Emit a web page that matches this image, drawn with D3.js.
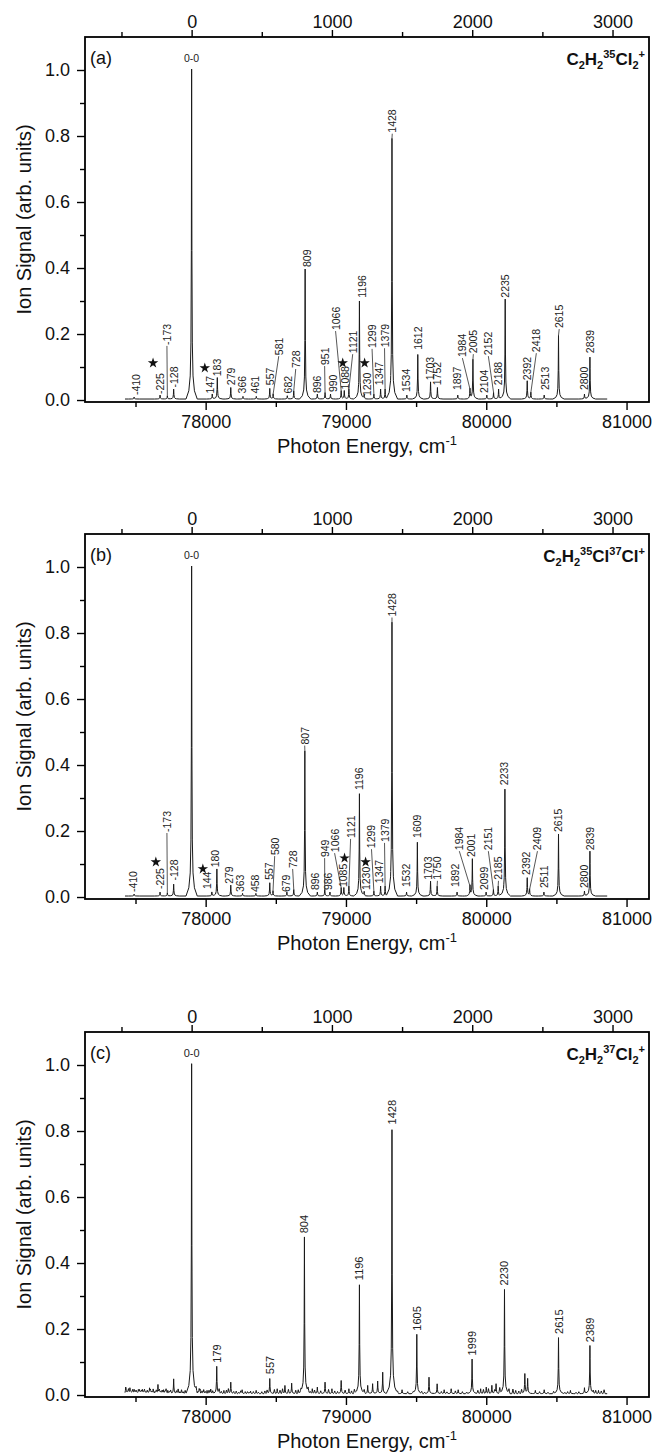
<!DOCTYPE html>
<html>
<head>
<meta charset="utf-8">
<script src="https://cdn.jsdelivr.net/npm/d3@7"></script>
<style>
body{margin:0;background:#fff;}
text{font-family:"Liberation Sans",Arial,Helvetica,sans-serif;}
</style>
</head>
<body>
<svg id="chart" width="658" height="1453"></svg>
<script>
// frame of one panel (panel a), the other two are shifted down
var left=85, right=649, top0=37, bottom0=402;
var panelOffset=[0,497,995];
var zeroZero=77900;               // 0-0 band, cm-1
var energyDomain=[77140,81160];
var yDomain=[-0.006,1.1];
var yTicks=[0,0.2,0.4,0.6,0.8,1.0];
var yMinor=[0.1,0.3,0.5,0.7,0.9];
var bottomTicks=[78000,79000,80000,81000];
var bottomMinor=[77500,78500,79500,80500];
var topTicks=[0,1000,2000,3000];
var topMinor=[-500,500,1500,2500];
var scanRange=[-475,2962];

// peak profile (distance cm-1 -> fraction of peak height)
var shapeDist=[0,2,5,10,20,40], shapeFrac=[1,0.45,0.17,0.07,0.025,0];
var noiseDist=[0,4,8], noiseFrac=[1,0.35,0];

// ---- panel (a) C2H2 35Cl2+
var aPeakPos=[-410,-225,-173,-128,0,147,183,279,366,461,557,581,682,728,809,896,951,990,1066,1088,1121,1196,1230,1299,1347,1379,1428,1534,1612,1703,1752,1897,1984,2005,2104,2152,2188,2235,2392,2418,2513,2615,2800,2839];
var aPeakH=[0.006,0.012,0.01,0.03,1.0,0.015,0.065,0.035,0.008,0.008,0.032,0.015,0.01,0.025,0.394,0.015,0.02,0.015,0.025,0.025,0.03,0.297,0.012,0.015,0.03,0.03,0.79,0.012,0.135,0.052,0.035,0.012,0.03,0.12,0.012,0.02,0.03,0.303,0.055,0.02,0.012,0.193,0.015,0.127];
var aLabelText=["-410","-225","-173","-128","147","183","279","366","461","557","581","682","728","809","896","951","990","1066","1088","1121","1196","1230","1299","1347","1379","1428","1534","1612","1703","1752","1897","1984","2005","2104","2152","2188","2235","2392","2418","2513","2615","2800","2839"];
var aLabelX=[-397,-226,-176,-127,129,179,279,357,450,557,621,685,742,820,891,948,1005,1026,1090,1148,1212,1247,1286,1339,1375,1430,1531,1610,1702,1752,1895,1930,2008,2087,2115,2187,2236,2393,2457,2521,2620,2798,2841];
var aLabelY=[0.015,0.018,0.167,0.038,0.02,0.072,0.045,0.02,0.02,0.045,0.136,0.02,0.097,0.403,0.021,0.106,0.024,0.212,0.032,0.142,0.31,0.012,0.158,0.045,0.16,0.81,0.024,0.152,0.06,0.045,0.03,0.13,0.142,0.021,0.136,0.045,0.31,0.06,0.145,0.03,0.218,0.03,0.142];
var aStarX=[-275,94,1077,1233];
var aStarY=[0.112,0.097,0.112,0.112];
var aMolecule=[["C",0],["2",1],["H",0],["2",1],["35",2],["Cl",0],["2",1],["+",2]];

// ---- panel (b) C2H2 35Cl37Cl+
var bPeakPos=[-410,-225,-173,-128,0,144,180,279,363,458,557,580,679,728,807,896,949,986,1066,1085,1121,1196,1230,1299,1347,1379,1428,1532,1609,1703,1750,1892,1984,2001,2099,2151,2185,2233,2392,2409,2511,2615,2800,2839];
var bPeakH=[0.006,0.012,0.01,0.036,1.0,0.012,0.082,0.033,0.008,0.008,0.04,0.015,0.012,0.02,0.44,0.012,0.02,0.012,0.025,0.025,0.03,0.31,0.012,0.015,0.03,0.03,0.83,0.012,0.163,0.045,0.03,0.012,0.03,0.112,0.012,0.02,0.03,0.324,0.055,0.02,0.012,0.188,0.015,0.136];
var bLabelText=["-410","-225","-173","-128","144","180","279","363","458","557","580","679","728","807","896","949","986","1066","1085","1121","1196","1230","1299","1347","1379","1428","1532","1609","1703","1750","1892","1984","2001","2099","2151","2185","2233","2392","2409","2511","2615","2800","2839"];
var bLabelX=[-417,-226,-176,-127,112,169,265,342,450,549,592,670,720,806,876,948,969,1019,1076,1133,1190,1240,1282,1339,1375,1428,1531,1603,1688,1752,1880,1908,1990,2087,2115,2187,2229,2386,2465,2514,2614,2798,2841];
var bLabelY=[0.015,0.024,0.197,0.05,0.024,0.09,0.04,0.015,0.015,0.052,0.127,0.015,0.088,0.462,0.021,0.121,0.021,0.136,0.03,0.179,0.324,0.021,0.148,0.042,0.167,0.85,0.03,0.179,0.052,0.052,0.03,0.142,0.121,0.021,0.142,0.052,0.339,0.067,0.142,0.027,0.197,0.027,0.142];
var bStarX=[-255,80,1090,1240];
var bStarY=[0.106,0.085,0.118,0.106];
var bMolecule=[["C",0],["2",1],["H",0],["2",1],["35",2],["Cl",0],["37",2],["Cl",0],["+",2]];

// ---- panel (c) C2H2 37Cl2+
var cPeakPos=[-470,-440,-410,-380,-350,-300,-240,-200,-170,-128,0,60,110,179,230,279,360,420,460,557,610,665,713,804,860,896,951,1000,1066,1121,1196,1255,1290,1326,1362,1428,1500,1605,1692,1750,1800,1850,1900,1999,2060,2100,2140,2170,2230,2375,2395,2450,2513,2615,2700,2800,2839,2900];
var cPeakH=[0.012,0.015,0.012,0.01,0.012,0.015,0.028,0.012,0.01,0.045,1.0,0.012,0.01,0.083,0.01,0.035,0.012,0.008,0.01,0.046,0.015,0.025,0.032,0.475,0.015,0.02,0.035,0.015,0.04,0.015,0.33,0.025,0.03,0.038,0.065,0.80,0.012,0.18,0.05,0.03,0.012,0.015,0.012,0.105,0.015,0.02,0.025,0.03,0.316,0.06,0.045,0.01,0.012,0.17,0.01,0.018,0.146,0.01];
var cNoisePos=[-468,-458,-450,-436,-428,-420,-404,-396,-388,-374,-366,-358,-344,-336,-326,-316,-306,-294,-284,-274,-262,-252,-230,-220,-210,-190,-182,-160,-150,-108,-96,-84,-72,-60,-46,32,44,54,74,86,98,124,136,150,196,212,248,262,300,318,336,350,382,398,410,440,476,500,522,538,590,630,648,690,742,760,780,830,846,876,920,976,1020,1040,1094,1140,1160,1230,1468,1540,1580,1640,1660,1780,1820,1880,1930,1960,2040,2080,2116,2160,2196,2262,2290,2310,2332,2352,2480,2540,2580,2660,2680,2740,2760,2862,2880,2920,2940];
var cNoiseH=[0.012,0.006,0.014,0.008,0.004,0.012,0.006,0.01,0.004,0.012,0.006,0.01,0.005,0.013,0.006,0.01,0.004,0.012,0.007,0.014,0.006,0.01,0.012,0.006,0.01,0.008,0.014,0.006,0.01,0.008,0.014,0.006,0.012,0.006,0.01,0.012,0.006,0.014,0.008,0.012,0.006,0.01,0.014,0.008,0.012,0.006,0.01,0.014,0.006,0.008,0.004,0.008,0.006,0.006,0.004,0.006,0.004,0.006,0.008,0.01,0.012,0.01,0.014,0.012,0.01,0.012,0.008,0.012,0.006,0.01,0.008,0.012,0.008,0.006,0.01,0.008,0.012,0.01,0.008,0.006,0.004,0.006,0.004,0.006,0.005,0.008,0.006,0.005,0.01,0.012,0.014,0.01,0.016,0.012,0.014,0.01,0.008,0.012,0.006,0.004,0.006,0.004,0.006,0.004,0.006,0.008,0.01,0.008,0.012];
var cLabelText=["179","557","804","1196","1428","1605","1999","2230","2615","2389"];
var cLabelX=[179,557,804,1196,1428,1605,1999,2230,2615,2839];
var cLabelY=[0.098,0.063,0.49,0.348,0.82,0.195,0.12,0.332,0.185,0.16];
var cMolecule=[["C",0],["2",1],["H",0],["2",1],["37",2],["Cl",0],["2",1],["+",2]];

var panels=[
  {tag:"(a)",pos:aPeakPos,h:aPeakH,nPos:[],nH:[],base:0.003,lt:aLabelText,lx:aLabelX,ly:aLabelY,sx:aStarX,sy:aStarY,fs:10.5,leaders:true,mol:aMolecule},
  {tag:"(b)",pos:bPeakPos,h:bPeakH,nPos:[],nH:[],base:0.003,lt:bLabelText,lx:bLabelX,ly:bLabelY,sx:bStarX,sy:bStarY,fs:10.5,leaders:true,mol:bMolecule},
  {tag:"(c)",pos:cPeakPos,h:cPeakH,nPos:cNoisePos,nH:cNoiseH,base:0.004,lt:cLabelText,lx:cLabelX,ly:cLabelY,sx:[],sy:[],fs:11,leaders:false,mol:cMolecule}
];

var svg=d3.select("#chart");
var xE=d3.scaleLinear().domain(energyDomain).range([left,right]);
var xR=d3.scaleLinear().domain([energyDomain[0]-zeroZero,energyDomain[1]-zeroZero]).range([left,right]);
var y=d3.scaleLinear().domain(yDomain).range([bottom0,top0]);

function profile(d,dist,frac){
  d=Math.abs(d);
  for(var k=1;k<dist.length;k++){
    if(d<=dist[k]){
      var t=(d-dist[k-1])/(dist[k]-dist[k-1]);
      return frac[k-1]+(frac[k]-frac[k-1])*t;
    }
  }
  return 0;
}

function buildTrace(p){
  var xs=[scanRange[0],scanRange[1]];
  p.pos.forEach(function(c){shapeDist.forEach(function(d){xs.push(c-d,c+d);});});
  p.nPos.forEach(function(c){noiseDist.forEach(function(d){xs.push(c-d,c+d);});});
  xs=xs.filter(function(v){return v>=scanRange[0]&&v<=scanRange[1];});
  xs.sort(function(a,b){return a-b;});
  xs=xs.filter(function(v,i){return i==0||v!=xs[i-1];});
  return xs.map(function(x){
    var s=p.base;
    for(var i=0;i<p.pos.length;i++) s+=p.h[i]*profile(x-p.pos[i],shapeDist,shapeFrac);
    for(var j=0;j<p.nPos.length;j++) s+=p.nH[j]*profile(x-p.nPos[j],noiseDist,noiseFrac);
    return [x,s];
  });
}

var line=d3.line().x(function(d){return xR(d[0]);}).y(function(d){return y(d[1]);});

panels.forEach(function(p,pi){
  var g=svg.append("g").attr("transform","translate(0,"+panelOffset[pi]+")");

  // axes
  var ax=function(sel){
    sel.selectAll(".domain").remove();
    sel.selectAll("line").attr("stroke","#000").attr("stroke-width",1.4);
    sel.selectAll("text").attr("fill","#111").style("font-size","18px");
  };
  g.append("g").attr("transform","translate(0,"+bottom0+")")
    .call(d3.axisBottom(xE).tickValues(bottomTicks).tickSize(8).tickPadding(5).tickFormat(d3.format("d")))
    .call(ax);
  g.append("g").attr("transform","translate(0,"+bottom0+")")
    .call(d3.axisBottom(xE).tickValues(bottomMinor).tickSize(5).tickFormat(""))
    .call(ax);
  g.append("g").attr("transform","translate(0,"+top0+")")
    .call(d3.axisTop(xR).tickValues(topTicks).tickSize(7).tickPadding(2).tickFormat(d3.format("d")))
    .call(ax);
  g.append("g").attr("transform","translate(0,"+top0+")")
    .call(d3.axisTop(xR).tickValues(topMinor).tickSize(5).tickFormat(""))
    .call(ax);
  g.append("g").attr("transform","translate("+left+",0)")
    .call(d3.axisLeft(y).tickValues(yTicks).tickSize(8).tickPadding(7).tickFormat(d3.format(".1f")))
    .call(ax);
  g.append("g").attr("transform","translate("+left+",0)")
    .call(d3.axisLeft(y).tickValues(yMinor).tickSize(5).tickFormat(""))
    .call(ax);

  g.append("rect").attr("x",left).attr("y",top0).attr("width",right-left).attr("height",bottom0-top0)
    .attr("fill","none").attr("stroke","#000").attr("stroke-width",1.8);

  // spectrum
  g.append("path").datum(buildTrace(p)).attr("d",line)
    .attr("fill","none").attr("stroke","#1a1a1a").attr("stroke-width",1).attr("stroke-linejoin","round");

  // leader lines
  if(p.leaders){
    p.lt.forEach(function(t,i){
      var k=p.pos.indexOf(+t);
      if(k<0) return;
      var y0=y(p.h[k]+p.base), y1=y(p.ly[i])+1;
      if(y0-y1<4) return;
      g.append("line").attr("x1",xR(p.pos[k])).attr("y1",y0).attr("x2",xR(p.lx[i])).attr("y2",y1)
        .attr("stroke","#444").attr("stroke-width",0.9);
    });
  }

  // peak labels
  p.lt.forEach(function(t,i){
    g.append("text").attr("transform","translate("+xR(p.lx[i])+","+y(p.ly[i])+") rotate(-90)")
      .attr("text-anchor","start").attr("dominant-baseline","central")
      .style("font-size",p.fs+"px").attr("fill","#222").text(t);
  });
  g.append("text").attr("x",xR(0)).attr("y",y(1.035)).attr("text-anchor","middle")
    .attr("dominant-baseline","central").style("font-size",p.fs+"px").attr("fill","#222").text("0-0");

  // stars
  p.sx.forEach(function(sx,i){
    g.append("path").attr("d",d3.symbol(d3.symbolStar,34)())
      .attr("transform","translate("+xR(sx)+","+y(p.sy[i])+")").attr("fill","#111");
  });

  // panel tag
  g.append("text").attr("x",90).attr("y",64).style("font-size","18px").attr("fill","#111").text(p.tag);

  // molecule
  var mt=g.append("text").attr("x",645).attr("y",65).attr("text-anchor","end")
    .style("font-weight","bold").attr("fill","#111");
  var cur=0;
  p.mol.forEach(function(m){
    var shift=m[1]==1?4:(m[1]==2?-7:0);
    mt.append("tspan").attr("dy",shift-cur).style("font-size",m[1]==0?"17px":"11px").text(m[0]);
    cur=shift;
  });

  // axis titles
  var xt=g.append("text").attr("x",(left+right)/2).attr("y",453).attr("text-anchor","middle")
    .style("font-size","20px").attr("fill","#111");
  xt.append("tspan").text("Photon Energy, cm");
  xt.append("tspan").attr("dy",-8).style("font-size","13px").text("-1");

  g.append("text").attr("transform","translate(24,"+((top0+bottom0)/2)+") rotate(-90)")
    .attr("text-anchor","middle").attr("dominant-baseline","central")
    .style("font-size","20px").attr("fill","#111").text("Ion Signal (arb. units)");
});
</script>
</body>
</html>
